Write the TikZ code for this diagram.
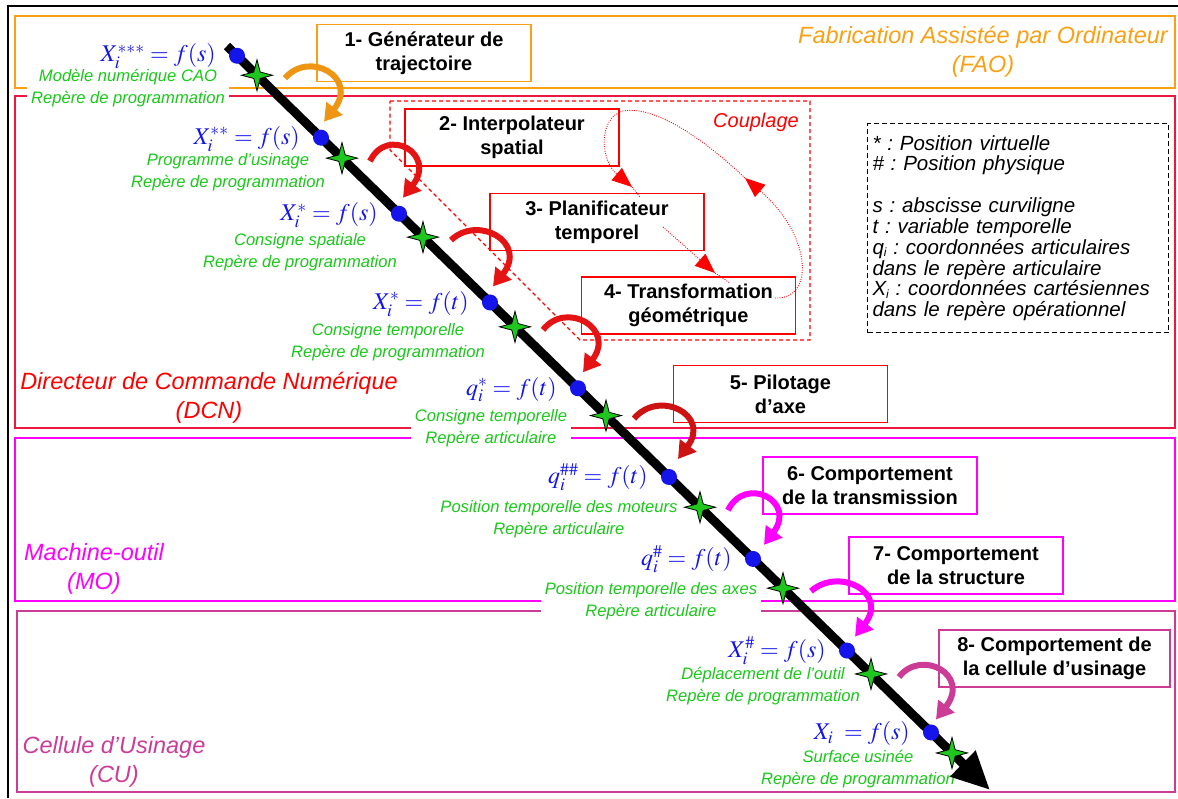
\documentclass[tikz,border=0pt]{standalone}
\usepackage{mathptmx}
\usepackage[no-math]{fontspec}
\setmainfont{Liberation Sans}
\usetikzlibrary{shapes.geometric,arrows.meta,calc}
\definecolor{faoC}{RGB}{250,160,20}
\definecolor{dcnC}{RGB}{235,25,65}
\definecolor{moC}{RGB}{255,0,255}
\definecolor{cuC}{RGB}{204,60,150}
\definecolor{gC}{RGB}{25,200,25}
\definecolor{starC}{RGB}{30,200,30}
\definecolor{bC}{RGB}{20,20,235}
\definecolor{redC}{RGB}{255,0,0}
\definecolor{arrRed}{RGB}{228,20,20}
\definecolor{arrOr}{RGB}{238,150,20}
\frenchspacing
\newcommand{\lsub}[1]{\raisebox{-0.12em}{\fontsize{12}{12}\selectfont #1}}
\begin{document}
\begin{tikzpicture}[x=1pt,y=-1pt,
  region/.style={line width=1.3pt},
  regtext/.style={font=\fontsize{23.5}{29.5}\selectfont\itshape, align=center, inner sep=0pt},
  procbox/.style={draw, fill=white, line width=1.5pt, minimum width=214pt, minimum height=57pt, align=center, inner sep=0pt, font=\fontsize{20}{24}\selectfont\bfseries},
  glabel/.style={fill=white, text=gC, align=center, inner xsep=4pt, inner ysep=0.3pt, font=\fontsize{16.6}{21.5}\selectfont\itshape},
  formula/.style={text=bC, anchor=base east, inner sep=0pt, font=\fontsize{24}{28}\selectfont},
  bdot/.style={circle, fill=bC, minimum size=16pt, inner sep=0pt},
  gstar/.style={star, star points=4, star point ratio=3.4, minimum size=31pt, inner sep=0pt, fill=starC, draw=black, line width=0.8pt},
  carrow/.style={line width=6pt, -{Triangle[length=17pt,width=20pt]}},
  dotline/.style={draw=redC, line width=0.9pt, dash pattern=on 0.9pt off 1.4pt},
  looptip/.style={-{Triangle[length=20pt,width=16pt]}},
  ]
\useasboundingbox (0,0) rectangle (1178,798);
% frame
\draw[black, line width=1.2pt] (8,798) -- (8,6) -- (1178,6);
% regions
\draw[region, faoC] (15,16) rectangle (1175,88);
\draw[region, dcnC] (15,96) rectangle (1175,428);
\draw[region, moC] (15,438) rectangle (1175,601);
\draw[region, cuC] (17,611) rectangle (1175,792);
\node[regtext, text=faoC] (fao) at (983,52) {Fabrication Assistée par Ordinateur\\(FAO)};
\node[regtext, text=redC] (dcn) at (209,398) {Directeur de Commande Numérique\\(DCN)};
\node[regtext, text=moC] (mo) at (94,569) {Machine-outil\\(MO)};
\node[regtext, text=cuC] (cu) at (114,762) {Cellule d’Usinage\\(CU)};
% couplage
\draw[redC, line width=1.1pt, dash pattern=on 4pt off 3pt] (390,101) -- (810,101) -- (810,340) -- (580,340) -- (390,150) -- cycle;
\node[text=redC, font=\fontsize{20}{24}\selectfont\itshape] (coup) at (756,122) {Couplage};
% legend
\node[draw, line width=1pt, dash pattern=on 5pt off 3pt, anchor=north west, minimum width=301pt, minimum height=209pt, text width=291pt, inner xsep=5pt, align=left, font=\fontsize{20.5}{20.8}\selectfont\itshape] (leg) at (867,123)
 {* : Position virtuelle\\
  \# : Position physique\\[21pt]
  s : abscisse curviligne\\
  t : variable temporelle\\
  q\lsub{i} : coordonnées articulaires\\
  dans le repère articulaire\\
  X\lsub{i} : coordonnées cartésiennes\\
  dans le repère opérationnel};
% green labels
\node[glabel] (g1) at (128,88) {Modèle numérique CAO\\Repère de programmation};
\node[glabel] (g2) at (228,172) {Programme d’usinage\\Repère de programmation};
\node[glabel] (g3) at (300,252) {Consigne spatiale\\Repère de programmation};
\node[glabel] (g4) at (388,342) {Consigne temporelle\\Repère de programmation};
\node[glabel] (g5) at (491,428) {Consigne temporelle\\Repère articulaire};
\node[glabel] (g6) at (559,519) {Position temporelle des moteurs\\Repère articulaire};
\node[glabel] (g7) at (651,601) {Position temporelle des axes\\Repère articulaire};
\node[glabel] (g8) at (763,686) {Déplacement de l’outil\\Repère de programmation};
\node[glabel] (g9) at (858,769) {Surface usinée\\Repère de programmation};
% main line
\coordinate (A) at (227,46);
\coordinate (B) at (990,790);
\draw[line width=9pt, -{Triangle[length=38pt,width=34pt]}] (A) -- (B);
% dots
\node[bdot] (d1) at (237,55.75) {};
\node[bdot] (d2) at (321,137.66) {};
\node[bdot] (d3) at (399,213.72) {};
\node[bdot] (d4) at (490,302.45) {};
\node[bdot] (d5) at (578,388.26) {};
\node[bdot] (d6) at (669,476.99) {};
\node[bdot] (d7) at (753,558.90) {};
\node[bdot] (d8) at (847,650.56) {};
\node[bdot] (d9) at (931,732.47) {};
% stars
\node[gstar] (s1) at (257,75.25) {};
\node[gstar] (s2) at (342,158.14) {};
\node[gstar] (s3) at (423,237.12) {};
\node[gstar] (s4) at (515,326.83) {};
\node[gstar] (s5) at (606,415.56) {};
\node[gstar] (s6) at (700,507.22) {};
\node[gstar] (s7) at (783,588.16) {};
\node[gstar] (s8) at (871,673.96) {};
\node[gstar] (s9) at (952,752.95) {};
% formulas
\node[formula] (f1) at ($(d1)+(-21,6)$) {$X_i^{***}=f(s)$};
\node[formula] (f2) at ($(d2)+(-21,7)$) {$X_i^{**}=f(s)$};
\node[formula] (f3) at ($(d3)+(-21,7)$) {$X_i^{*}=f(s)$};
\node[formula] (f4) at ($(d4)+(-21,7)$) {$X_i^{*}=f(t)$};
\node[formula] (f5) at ($(d5)+(-21,7)$) {$q_i^{*}=f(t)$};
\node[formula] (f6) at ($(d6)+(-21,7)$) {$q_i^{\#\#}=f(t)$};
\node[formula] (f7) at ($(d7)+(-21,7)$) {$q_i^{\#}=f(t)$};
\node[formula] (f8) at ($(d8)+(-21,7)$) {$X_i^{\#}=f(s)$};
\node[formula] (f9) at ($(d9)+(-21,7)$) {$X_i\;=f(s)$};
% process boxes
\node[procbox, draw=faoC] (b1) at (424,53) {1- Générateur de\\trajectoire};
\node[procbox, draw=redC] (b2) at (512,137.5) {2- Interpolateur\\spatial};
\node[procbox, draw=redC] (b3) at (597,222) {3- Planificateur\\temporel};
\node[procbox, draw=redC] (b4) at (688.5,305.5) {4- Transformation\\géométrique};
\node[procbox, draw=redC] (b5) at (780.5,394) {5- Pilotage\\d’axe};
\node[procbox, draw=moC] (b6) at (870,485.5) {6- Comportement\\de la transmission};
\node[procbox, draw=moC] (b7) at (956,565.5) {7- Comportement\\de la structure};
\node[procbox, draw=cuC, minimum width=231pt] (b8) at (1054.5,658.5) {8- Comportement de\\la cellule d’usinage};
% curved arrows
\draw[carrow, arrOr] ($(s1)+(28,3)$) .. controls ($(d2)+(-12,-88)$) and ($(d2)+(38,-60)$) .. ($(d2)+(3,-16)$);
\draw[carrow, arrRed] ($(s2)+(28,3)$) .. controls ($(d3)+(-12,-88)$) and ($(d3)+(38,-60)$) .. ($(d3)+(4,-16)$);
\draw[carrow, arrRed] ($(s3)+(28,3)$) .. controls ($(d4)+(-12,-88)$) and ($(d4)+(38,-60)$) .. ($(d4)+(3,-16)$);
\draw[carrow, arrRed] ($(s4)+(28,3)$) .. controls ($(d5)+(-12,-88)$) and ($(d5)+(38,-60)$) .. ($(d5)+(5,-16)$);
\draw[carrow, arrRed!90!black] ($(s5)+(28,3)$) .. controls ($(d6)+(-10,-88)$) and ($(d6)+(42,-62)$) .. ($(d6)+(9,-18)$);
\draw[carrow, moC] ($(s6)+(28,3)$) .. controls ($(d7)+(-8,-84)$) and ($(d7)+(44,-58)$) .. ($(d7)+(11,-14)$);
\draw[carrow, moC] ($(s7)+(28,3)$) .. controls ($(d8)+(-8,-84)$) and ($(d8)+(42,-58)$) .. ($(d8)+(8,-14)$);
\draw[carrow, cuC] ($(s8)+(28,3)$) .. controls ($(d9)+(-10,-84)$) and ($(d9)+(40,-58)$) .. ($(d9)+(5,-13)$);
% coupling loop
\coordinate (l1) at (775,298);
\coordinate (l2) at (745,178);
\coordinate (l3) at (623,111);
\coordinate (l4) at (632,187);
\coordinate (l5) at (640,197);
\coordinate (l6) at (663,227);
\coordinate (l7) at (715,273);
\coordinate (l8) at (730,283);
\draw[dotline, looptip] (l1) .. controls (815,300) and (812,235) .. (l2);
\draw[dotline, looptip] (l2) .. controls (705,140) and (655,105) .. (l3) .. controls (598,118) and (600,160) .. (l4);
\draw[dotline] (l4) -- (l5);
\draw[dotline, looptip] (l6) -- (l7);
\draw[dotline] (l7) -- (l8);
\end{tikzpicture}
\end{document}
